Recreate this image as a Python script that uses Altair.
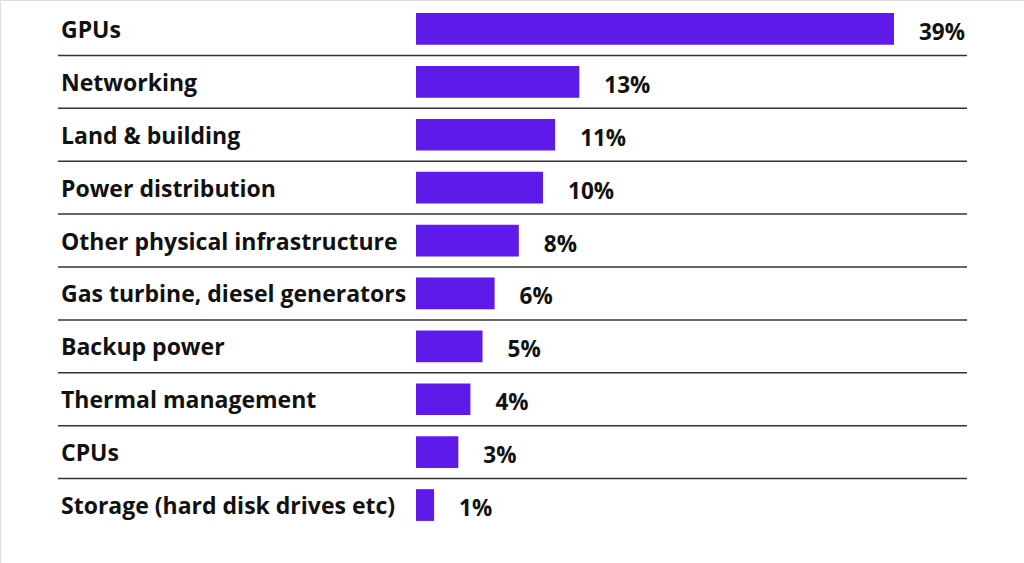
import altair as alt
import pandas as pd

categories = [
    "GPUs",
    "Networking",
    "Land & building",
    "Power distribution",
    "Other physical infrastructure",
    "Gas turbine, diesel generators",
    "Backup power",
    "Thermal management",
    "CPUs",
    "Storage (hard disk drives etc)",
]
shares = [39, 13, 11, 10, 8, 6, 5, 4, 3, 1]
share_labels = ["39%", "13%", "11%", "10%", "8%", "6%", "5%", "4%", "3%", "1%"]

df = pd.DataFrame({"category": categories, "share": shares, "label": share_labels})
sep_df = pd.DataFrame({"category": categories[:-1]})

FONT = "Open Sans"
BAR_COLOR = "#5D1AE8"

y_enc = alt.Y(
    "category:N",
    sort=categories,
    axis=None,
    scale=alt.Scale(domain=categories, range=[2.5, 531.5], paddingInner=0.4, paddingOuter=0.2),
)
x_scale = alt.Scale(domain=[0, 39], range=[422, 894])

bars = alt.Chart(df).mark_bar(color=BAR_COLOR, cornerRadius=0).encode(
    x=alt.X("share:Q", scale=x_scale, axis=None, stack=None),
    x2=alt.value(416),
    y=y_enc,
)

values = alt.Chart(df).mark_text(
    align="left", baseline="middle", dx=25, dy=4, font=FONT, fontWeight="bold", fontSize=22.5, color="#111111"
).encode(
    x=alt.X("share:Q", scale=x_scale, axis=None),
    y=y_enc,
    text="label:N",
)

names = alt.Chart(df).mark_text(
    align="left", baseline="middle", dy=2, font=FONT, fontWeight="bold", fontSize=23, color="#111111"
).encode(
    x=alt.value(61),
    y=y_enc,
    text="category:N",
)

seps = alt.Chart(sep_df).mark_rule(color="#333333", strokeWidth=1.5, yOffset=26.45).encode(
    x=alt.value(58),
    x2=alt.value(967),
    y=y_enc,
)

chart = (
    alt.layer(seps, bars, values, names)
    .properties(width=1024, height=563, padding=0, autosize=alt.AutoSizeParams(type="none"))
    .configure_view(stroke=None)
    .configure(background="white")
)

chart.save("out.html", embed_options={"renderer": "svg", "actions": False})
